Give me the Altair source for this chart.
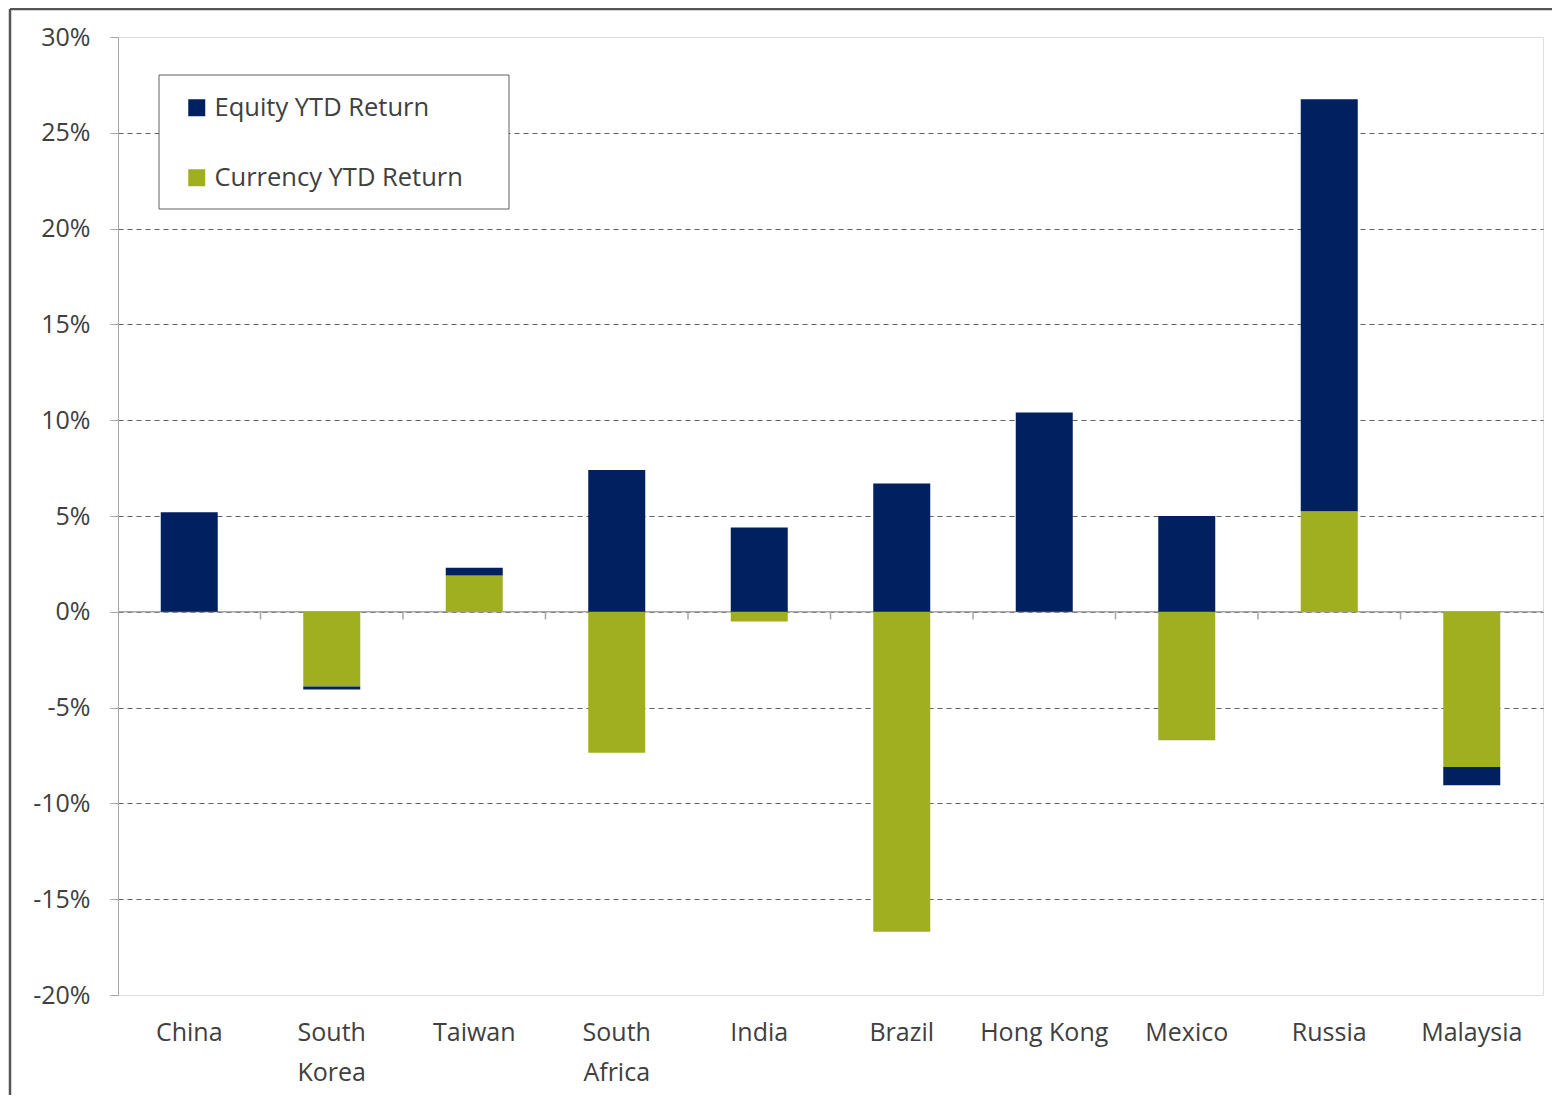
import altair as alt
import pandas as pd

countries = ["China", "South Korea", "Taiwan", "South Africa", "India",
             "Brazil", "Hong Kong", "Mexico", "Russia", "Malaysia"]
equity = [5.2, -0.15, 0.4, 7.4, 4.4, 6.7, 10.4, 5.0, 21.5, -0.95]
currency = [0.0, -3.9, 1.9, -7.35, -0.5, -16.7, 0.0, -6.7, 5.25, -8.1]
series = ["Equity YTD Return", "Currency YTD Return"]
colors = ["#00205f", "#a0af1f"]
y_ticks = [-20, -15, -10, -5, 0, 5, 10, 15, 20, 25, 30]

rows = []
for c, e, cu in zip(countries, equity, currency):
    rows.append({"country": c, "series": series[1], "value": cu, "ord": 0})
    rows.append({"country": c, "series": series[0], "value": e, "ord": 1})
df = pd.DataFrame(rows)

FONT = "Open Sans"
TXT = "#404040"

x_scale = alt.Scale(domain=countries, paddingInner=0, paddingOuter=0)
y_scale = alt.Scale(domain=[-20, 30], nice=False, zero=False)

bars = alt.Chart(df).mark_bar(width={"band": 0.4}).encode(
    x=alt.X("country:N", scale=x_scale, sort=countries,
            axis=alt.Axis(title=None, labelAngle=0, ticks=False, domain=False,
                          labelFontSize=25, labelColor=TXT, labelFont=FONT,
                          labelPadding=25, labelLineHeight=40, labelBaseline="top",
                          labelExpr="indexof(['South Korea','South Africa'], datum.label) >= 0 ? split(datum.label, ' ') : datum.label")),
    y=alt.Y("sum(value):Q", stack="zero", scale=y_scale,
            axis=alt.Axis(title=None, values=y_ticks, labelExpr="datum.value + '%'",
                          labelFontSize=25, labelColor=TXT, labelFont=FONT,
                          labelPadding=20, tickSize=8, tickColor="#a6a6a6",
                          domainColor="#a6a6a6", grid=True, gridColor="#606060",
                          gridDash=[5, 4], gridWidth=1,
                          gridOpacity={"condition": {"test": "datum.value == 30 || datum.value == -20", "value": 0}, "value": 1})),
    color=alt.Color("series:N", scale=alt.Scale(domain=series, range=colors),
                    legend=alt.Legend(title=None, orient="none", legendX=66, legendY=58,
                                      symbolType="square", symbolSize=289,
                                      symbolStrokeWidth=0, labelFontSize=25.5,
                                      labelFont=FONT, labelColor=TXT, labelOffset=5,
                                      labelLimit=0, rowPadding=43, padding=0)),
    order=alt.Order("ord:Q"),
)

one = pd.DataFrame({"a": [0]})

zero_line = alt.Chart(one).mark_rule(color="#a6a6a6", strokeWidth=1.5).encode(
    y=alt.Y("a:Q", scale=y_scale))

tick_df = pd.DataFrame({"country": countries[1:]})
cat_ticks = alt.Chart(tick_df).mark_rule(color="#a6a6a6", strokeWidth=1.5).encode(
    x=alt.X("country:N", bandPosition=0, sort=countries, scale=x_scale),
    y=alt.datum(0),
    y2=alt.datum(-0.4),
)

legend_box = alt.Chart(one).mark_rect(fill="white", stroke="#606060", strokeWidth=1).encode(
    x=alt.value(41), x2=alt.value(391), y=alt.value(38), y2=alt.value(172))

frame_left = alt.Chart(one).mark_rule(color="#555555", strokeWidth=2.5).encode(
    x=alt.value(-108), y=alt.value(-28), y2=alt.value(1080))
frame_top = alt.Chart(one).mark_rule(color="#555555", strokeWidth=2.5).encode(
    x=alt.value(-108), x2=alt.value(1450), y=alt.value(-28))

chart = alt.layer(zero_line, bars, cat_ticks, legend_box, frame_left, frame_top).properties(
    width=1425, height=958,
    autosize=alt.AutoSizeParams(type="none"),
    padding={"left": 110, "top": 29, "right": 9, "bottom": 100},
).configure_view(stroke="#a6a6a6", strokeWidth=1.5).configure(background="white")

chart.save("out.html", embed_options={"renderer": "svg", "actions": False})
